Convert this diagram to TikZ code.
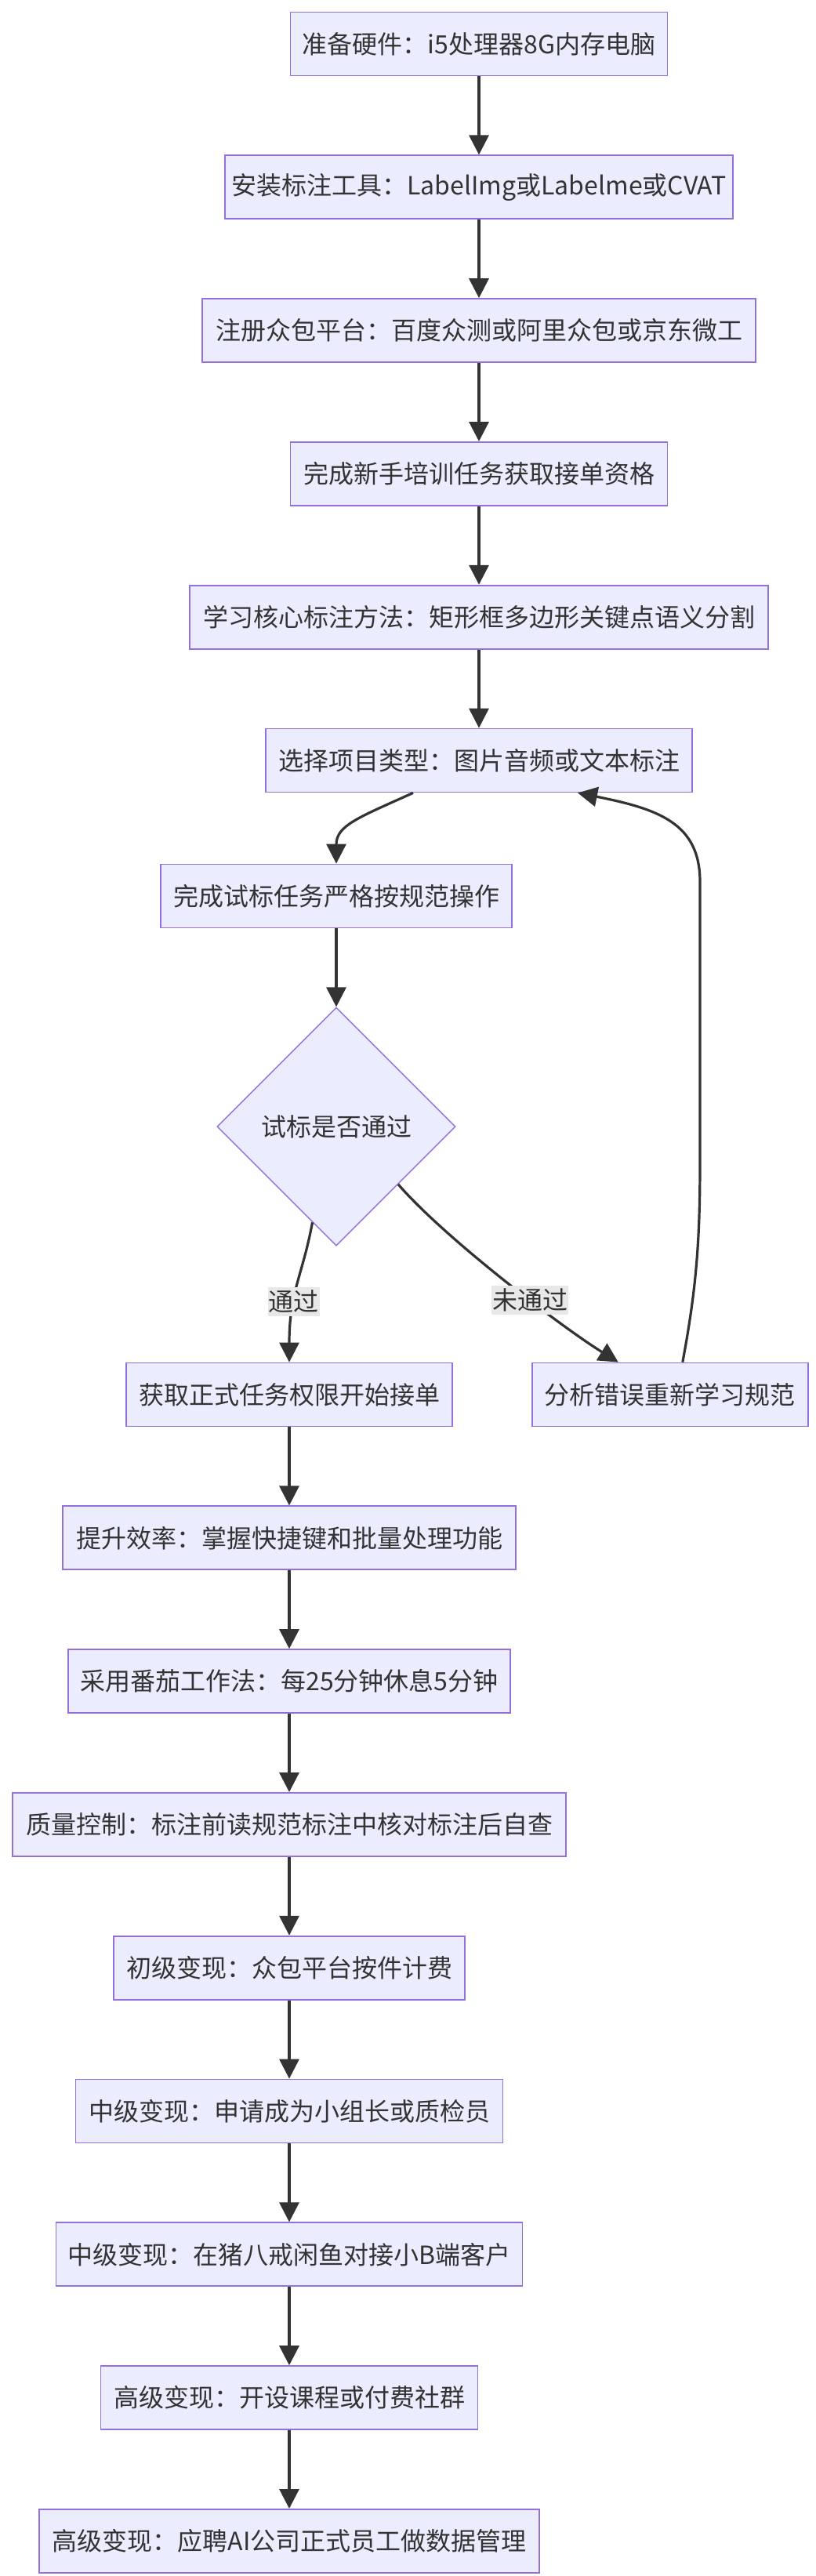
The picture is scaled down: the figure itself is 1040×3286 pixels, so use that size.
\documentclass[tikz,border=0pt]{standalone}
\usepackage{fontspec}
\newfontfamily\cjk{Noto Sans CJK SC}
\usetikzlibrary{arrows.meta, positioning, shapes.geometric}
\definecolor{nodefill}{HTML}{ECECFF}
\definecolor{nodeline}{HTML}{9370DB}
\definecolor{edgeline}{HTML}{333333}
\definecolor{tagfill}{HTML}{E8E8E8}
\definecolor{ink}{HTML}{333333}
\begin{document}
\begin{tikzpicture}[x=0.5pt,y=-0.5pt,>={Triangle[length=12.5pt,width=12.5pt]},node distance=50pt,box/.style={draw=nodeline, fill=nodefill, line width=0.9pt, text=ink, font=\cjk\fontsize{16pt}{19pt}\selectfont, minimum height=40.5pt, inner xsep=4pt},decision/.style={diamond, aspect=1, draw=nodeline, fill=nodefill, line width=0.7pt, text=ink, font=\cjk\fontsize{16pt}{19pt}\selectfont, minimum width=152pt, minimum height=152pt, inner sep=0pt},arrow/.style={->, draw=edgeline, line width=1.6pt},tag/.style={fill=tagfill, text=ink, font=\cjk\fontsize{16pt}{19pt}\selectfont, inner xsep=0.5pt, inner ysep=2pt}]
\useasboundingbox (0,0) rectangle (1040,3286);
\node[box, minimum width=240.5pt] (hardware) at (611,56) {准备硬件：i5处理器8G内存电脑};
\node[box, minimum width=320.5pt, below=of hardware] (tools) {安装标注工具：LabelImg或Labelme或CVAT};
\node[box, minimum width=353pt, below=of tools] (platform) {注册众包平台：百度众测或阿里众包或京东微工};
\node[box, minimum width=240.5pt, below=of platform] (training) {完成新手培训任务获取接单资格};
\node[box, minimum width=369pt, below=of training] (methods) {学习核心标注方法：矩形框多边形关键点语义分割};
\node[box, minimum width=272pt, below=of methods] (select) {选择项目类型：图片音频或文本标注};
\node[box, minimum width=224pt] (trial) at (429,1143) {完成试标任务严格按规范操作};
\node[decision, below=of trial] (check) {试标是否通过};
\node[box, minimum width=208pt] (formal) at (369,1779) {获取正式任务权限开始接单};
\node[box, minimum width=176pt, right=of formal] (review) {分析错误重新学习规范};
\node[box, minimum width=289pt, below=of formal] (speed) {提升效率：掌握快捷键和批量处理功能};
\node[box, minimum width=282pt, below=of speed] (tomato) {采用番茄工作法：每25分钟休息5分钟};
\node[box, minimum width=353pt, below=of tomato] (quality) {质量控制：标注前读规范标注中核对标注后自查};
\node[box, minimum width=224pt, below=of quality] (junior) {初级变现：众包平台按件计费};
\node[box, minimum width=272.5pt, below=of junior] (midlead) {中级变现：申请成为小组长或质检员};
\node[box, minimum width=297.5pt, below=of midlead] (midclient) {中级变现：在猪八戒闲鱼对接小B端客户};
\node[box, minimum width=240.5pt, below=of midclient] (course) {高级变现：开设课程或付费社群};
\node[box, minimum width=319pt, below=of course] (job) {高级变现：应聘AI公司正式员工做数据管理};
\draw[arrow] (hardware) -- (tools); \draw[arrow] (tools) -- (platform); \draw[arrow] (platform) -- (training);
\draw[arrow] (training) -- (methods); \draw[arrow] (methods) -- (select);
\draw[arrow] ([xshift=-42pt]select.south) .. controls (457,1043) and (429,1053) .. (trial.north);
\draw[arrow] (trial) -- (check);
\draw[arrow] (check.256) .. controls (386,1627) and (369,1648) .. node[tag, pos=0.63] {通过} (formal.north);
\draw[arrow] (check.-43) .. controls (568,1580) and (717,1693) .. node[tag, pos=0.6] {未通过} ([xshift=-33pt]review.north);
\draw[arrow] ([xshift=8pt]review.north) .. controls (889,1640) and (893,1580) .. (893,1480) -- (893,1125) .. controls (893,1050) and (840,1032) .. ([xshift=63pt]select.south);
\draw[arrow] (formal) -- (speed); \draw[arrow] (speed) -- (tomato); \draw[arrow] (tomato) -- (quality);
\draw[arrow] (quality) -- (junior); \draw[arrow] (junior) -- (midlead); \draw[arrow] (midlead) -- (midclient);
\draw[arrow] (midclient) -- (course); \draw[arrow] (course) -- (job);
\end{tikzpicture}
\end{document}
